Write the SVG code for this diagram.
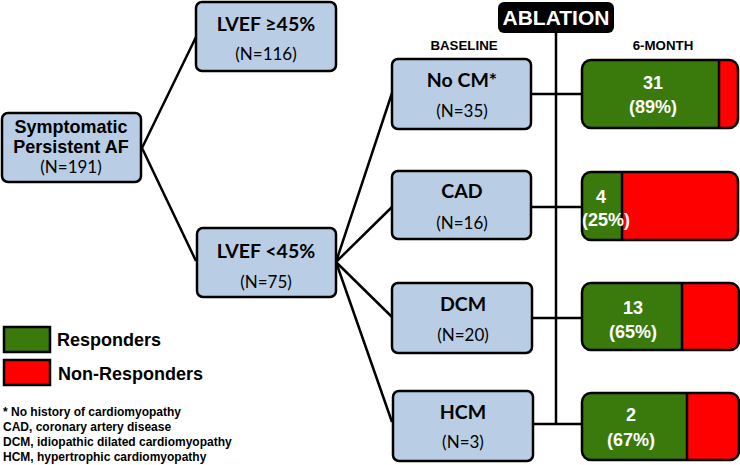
<svg xmlns="http://www.w3.org/2000/svg" width="740" height="465" viewBox="0 0 740 465">
<style>
.box{fill:#b9cde5;stroke:#000;stroke-width:2.5}
.g{fill:#3a7a0c}
.r{fill:#ff0000}
.ln{stroke:#000;stroke-width:2.5;fill:none}
.tb{font-family:Lato,"Open Sans",sans-serif;font-weight:bold;text-anchor:middle;fill:#000;font-size:19.5px}
.tn{font-family:Lato,"Open Sans",sans-serif;text-anchor:middle;fill:#000;font-size:17px}
.ar{font-family:"Liberation Sans",Arial,sans-serif;font-weight:bold}
.w{font-family:"Liberation Sans",Arial,sans-serif;font-weight:bold;fill:#fff;text-anchor:middle;font-size:18px}
</style>
<g id="connectors">
<path class="ln" d="M142,148 L196,37 M142,148 L196,261"/>
<path class="ln" d="M336,262 L392,93 M336,262 L392,207 M336,262 L392,317 M336,262 L392,422"/>
<path class="ln" d="M556,33 L556,424"/>
<path class="ln" d="M531,94 L582,94 M531,207 L582,207 M532,318 L582,318 M533,424 L582,424"/>
</g>
<g id="n-root">
<rect class="box" x="2" y="113" width="139" height="69" rx="6"/>
<text class="ar" x="71" y="133" text-anchor="middle" font-size="18">Symptomatic</text>
<text class="ar" x="71" y="153" text-anchor="middle" font-size="18">Persistent AF</text>
<text class="tn" x="71" y="173">(N=191)</text>
</g>
<g id="n-lvef-high">
<rect class="box" x="196" y="2" width="140" height="69" rx="6"/>
<text class="tb" x="266" y="31">LVEF ≥45%</text>
<text class="tn" x="266" y="60">(N=116)</text>
</g>
<g id="n-lvef-low">
<rect class="box" x="197" y="228" width="139" height="69" rx="6"/>
<text class="tb" x="266" y="258">LVEF &lt;45%</text>
<text class="tn" x="266" y="288">(N=75)</text>
</g>
<g id="ablation">
<rect x="498" y="2" width="116" height="31" rx="6" fill="#000"/>
<text class="ar" x="556" y="25" text-anchor="middle" font-size="21" fill="#fff">ABLATION</text>
</g>
<g id="headers">
<text class="ar" x="464" y="50" text-anchor="middle" font-size="13.3">BASELINE</text>
<text class="ar" x="663" y="50" text-anchor="middle" font-size="13.3">6-MONTH</text>
</g>
<g id="n-nocm">
<rect class="box" x="392" y="59" width="139" height="70" rx="6"/>
<text class="tb" x="462" y="87">No CM*</text>
<text class="tn" x="462" y="117">(N=35)</text>
</g>
<g id="n-cad">
<rect class="box" x="392" y="171" width="139" height="68" rx="6"/>
<text class="tb" x="462" y="198">CAD</text>
<text class="tn" x="462" y="229">(N=16)</text>
</g>
<g id="n-dcm">
<rect class="box" x="392" y="283" width="140" height="70" rx="6"/>
<text class="tb" x="463" y="311">DCM</text>
<text class="tn" x="463" y="341">(N=20)</text>
</g>
<g id="n-hcm">
<rect class="box" x="393" y="391" width="140" height="70" rx="6"/>
<text class="tb" x="463" y="419">HCM</text>
<text class="tn" x="463" y="448">(N=3)</text>
</g>
<g id="r-nocm">
<clipPath id="c1"><rect x="582" y="60" width="156" height="68" rx="9"/></clipPath>
<g clip-path="url(#c1)"><rect class="r" x="582" y="60" width="156" height="68"/><rect class="g" x="582" y="60" width="137" height="68"/></g>
<line class="ln" x1="719" y1="60" x2="719" y2="128"/>
<rect x="582" y="60" width="156" height="68" rx="9" fill="none" stroke="#000" stroke-width="2.5"/>
<text class="w" x="653" y="89">31</text>
<text class="w" x="653" y="113">(89%)</text>
</g>
<g id="r-cad">
<clipPath id="c2"><rect x="582" y="172" width="156" height="68" rx="9"/></clipPath>
<g clip-path="url(#c2)"><rect class="r" x="582" y="172" width="156" height="68"/><rect class="g" x="582" y="172" width="40" height="68"/></g>
<line class="ln" x1="622" y1="172" x2="622" y2="240"/>
<rect x="582" y="172" width="156" height="68" rx="9" fill="none" stroke="#000" stroke-width="2.5"/>
<text class="w" x="601" y="203">4</text>
<text class="w" x="606" y="226">(25%)</text>
</g>
<g id="r-dcm">
<clipPath id="c3"><rect x="582" y="283" width="157" height="67" rx="9"/></clipPath>
<g clip-path="url(#c3)"><rect class="r" x="582" y="283" width="157" height="67"/><rect class="g" x="582" y="283" width="100" height="67"/></g>
<line class="ln" x1="682" y1="283" x2="682" y2="350"/>
<rect x="582" y="283" width="157" height="67" rx="9" fill="none" stroke="#000" stroke-width="2.5"/>
<text class="w" x="633" y="314">13</text>
<text class="w" x="633" y="338">(65%)</text>
</g>
<g id="r-hcm">
<clipPath id="c4"><rect x="582" y="393" width="157" height="67" rx="9"/></clipPath>
<g clip-path="url(#c4)"><rect class="r" x="582" y="393" width="157" height="67"/><rect class="g" x="582" y="393" width="105" height="67"/></g>
<line class="ln" x1="687" y1="393" x2="687" y2="460"/>
<rect x="582" y="393" width="157" height="67" rx="9" fill="none" stroke="#000" stroke-width="2.5"/>
<text class="w" x="631" y="421">2</text>
<text class="w" x="631" y="446">(67%)</text>
</g>
<g id="legend">
<rect class="g" x="4" y="327" width="46" height="25" stroke="#000" stroke-width="2.5"/>
<rect class="r" x="4" y="360" width="46" height="25" stroke="#000" stroke-width="2.5"/>
<text class="ar" x="57" y="346" font-size="18">Responders</text>
<text class="ar" x="58" y="380" font-size="18">Non-Responders</text>
</g>
<g id="footnotes" class="ar" font-size="12">
<text x="3" y="416">* No history of cardiomyopathy</text>
<text x="3" y="431">CAD, coronary artery disease</text>
<text x="3" y="446">DCM, idiopathic dilated cardiomyopathy</text>
<text x="3" y="461">HCM, hypertrophic cardiomyopathy</text>
</g>
</svg>
